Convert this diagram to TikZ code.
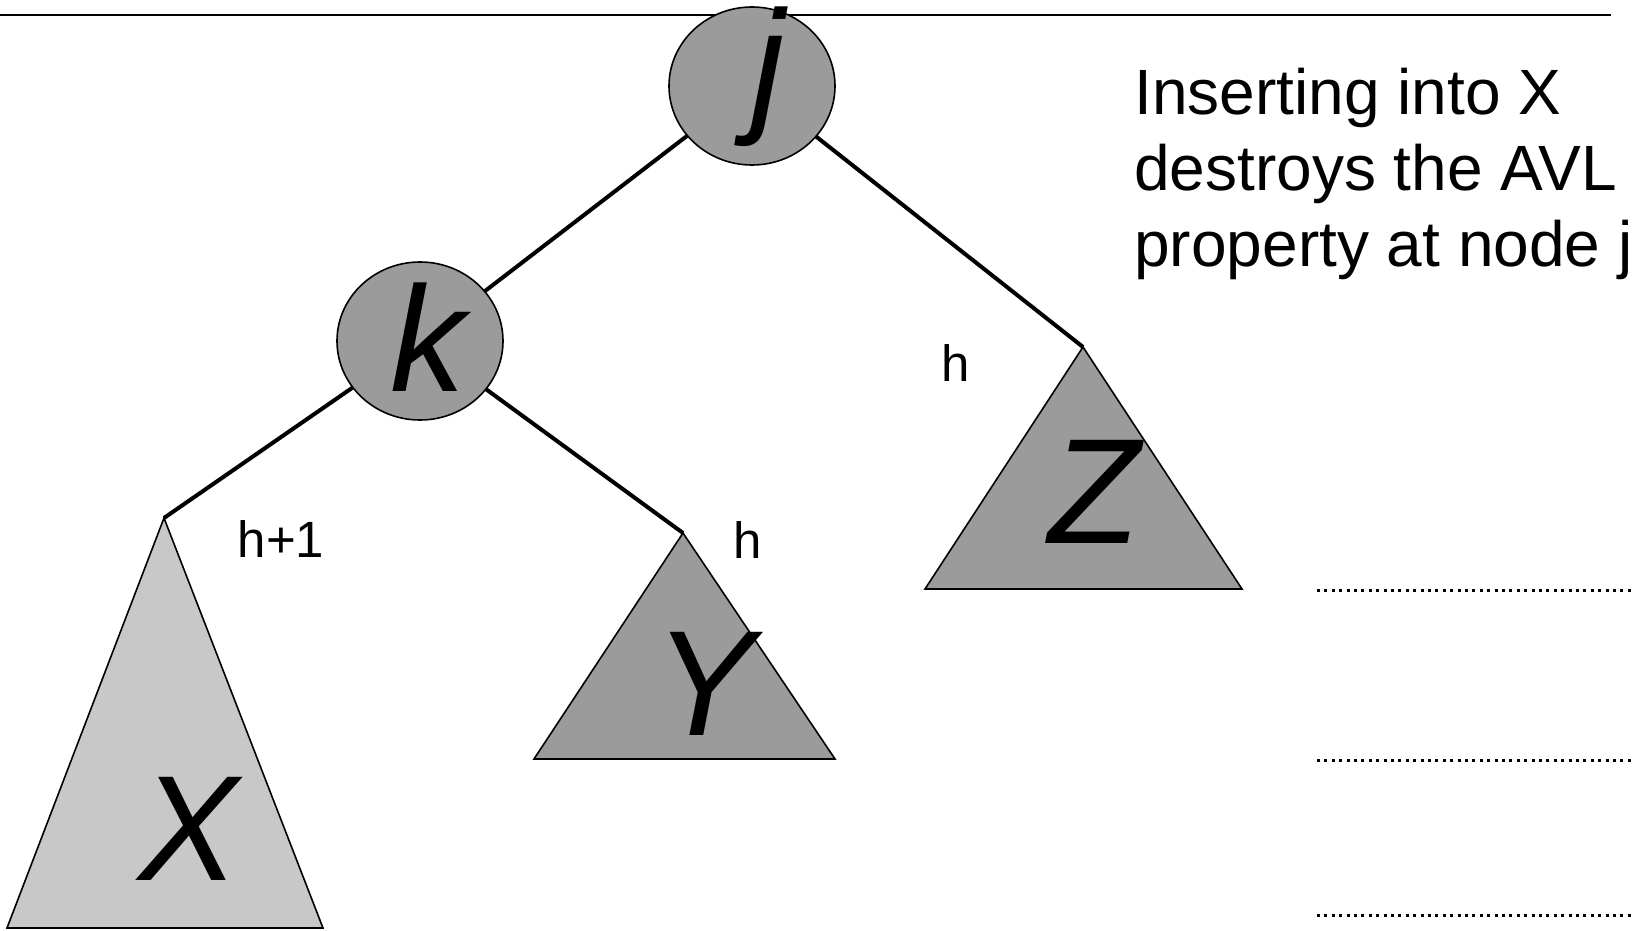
\documentclass[tikz,border=0pt]{standalone}
\usepackage{fontspec}
\setmainfont{Liberation Sans}
\usetikzlibrary{shapes.geometric}
\definecolor{nodegray}{RGB}{155,155,155}
\definecolor{leafgray}{RGB}{200,200,200}
\tikzset{
  treenode/.style={
    ellipse, draw=black, line width=0.8pt, fill=nodegray,
    minimum width=83pt, minimum height=79pt, inner sep=0pt, outer sep=0pt,
    font=\fontsize{75}{75}\selectfont\itshape,
    text height=50pt, text depth=0pt
  },
  treeedge/.style={line width=2pt},
  subtree/.style={draw=black, line width=0.8pt, fill=#1},
  subtreelabel/.style={anchor=base, inner sep=0pt,
    font=\fontsize{75}{75}\selectfont\itshape},
  heightlabel/.style={anchor=base, inner sep=0pt,
    font=\fontsize{25.5}{25.5}\selectfont},
  levelline/.style={line width=1.5pt, dash pattern=on 1.5pt off 2.2pt},
}
\begin{document}
\begin{tikzpicture}[x=0.5pt, y=-0.5pt]
  \useasboundingbox (0,0) rectangle (1635,931);
  % top rule
  \coordinate (ruleL) at (0,15);
  \coordinate (ruleR) at (1611,15);
  \draw[line width=1pt] (ruleL) -- (ruleR);
  % subtrees
  \coordinate (xtop) at (164,518);
  \coordinate (ytop) at (683,533);
  \coordinate (ztop) at (1083,347);
  \draw[subtree=leafgray] (xtop) -- (323,928) -- (7,928) -- cycle;
  \draw[subtree=nodegray] (ytop) -- (835,759) -- (534,759) -- cycle;
  \draw[subtree=nodegray] (ztop) -- (1242,589) -- (925,589) -- cycle;
  \node[subtreelabel] (xlab) at (189,880) {X};
  \node[subtreelabel] (ylab) at (705,735) {Y};
  \node[subtreelabel] (zlab) at (1094,543) {Z};
  % tree nodes
  \node[treenode, text height=34pt, text depth=4pt] (j) at (752,86) {\hspace*{16pt}j};
  \node[treenode] (k) at (420,341) {\hspace*{8pt}k};
  \draw[treeedge] (j) -- (k);
  \draw[treeedge] (j) -- (ztop);
  \draw[treeedge] (k) -- (xtop);
  \draw[treeedge] (k) -- (ytop);
  % heights
  \node[heightlabel] (hx) at (281,557) {h+1};
  \node[heightlabel] (hy) at (748,558) {h};
  \node[heightlabel] (hz) at (956,381) {h};
  % note
  \node[anchor=north west, align=left, inner sep=0pt,
        font=\fontsize{32}{38}\selectfont] (note) at (1134,68)
        {Inserting into X\\destroys the AVL\\property at node j};
  % level marks
  \foreach \yy in {590,760,915}
    \draw[levelline] (1317,\yy) -- (1635,\yy);
\end{tikzpicture}
\end{document}
